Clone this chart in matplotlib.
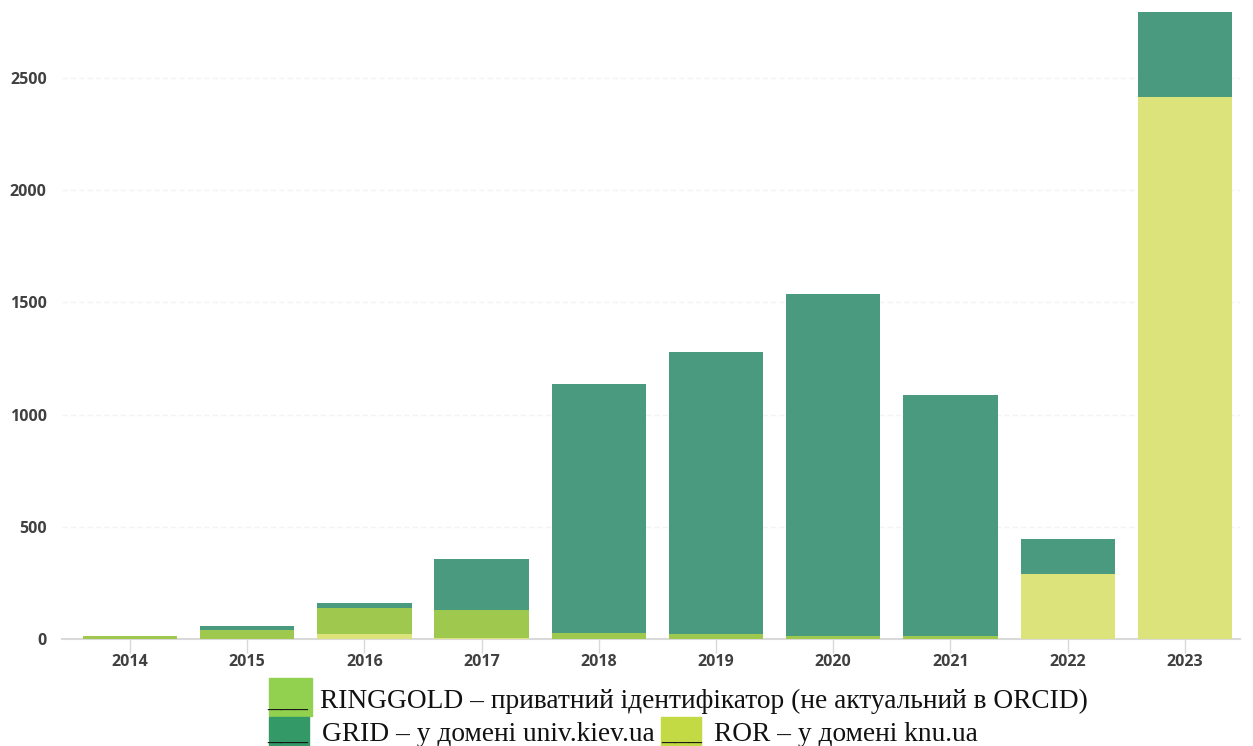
import matplotlib.pyplot as plt
from matplotlib.patches import Rectangle
import numpy as np

years = ['2014', '2015', '2016', '2017', '2018', '2019', '2020', '2021', '2022', '2023']
ror = [0, 0, 21, 5, 2, 2, 2, 2, 290, 2415]
ringgold = [13, 42, 116, 125, 23, 21, 10, 10, 0, 0]
grid = [0, 16, 25, 227, 1113, 1254, 1524, 1073, 156, 380]
yticks = [0, 500, 1000, 1500, 2000, 2500]

c_grid = '#4a9a80'
c_ring = '#9ec94e'
c_ror = '#dce37a'

W, H = 1253, 746
fig = plt.figure(figsize=(12.53, 7.46), dpi=100)
ax = fig.add_axes([62 / W, 1 - 639 / H, (1240 - 62) / W, 639 / H])

x = np.arange(len(years))
ror_a = np.array(ror)
ring_a = np.array(ringgold)
ax.bar(x, ror, width=0.805, color=c_ror, zorder=3)
ax.bar(x, ringgold, width=0.805, bottom=ror_a, color=c_ring, zorder=3)
ax.bar(x, grid, width=0.805, bottom=ror_a + ring_a, color=c_grid, zorder=3)

ax.set_xlim(-0.58, 9.47)
ax.set_ylim(0, 2847)
ax.set_xticks(x)
ax.set_xticklabels(years)
ax.set_yticks(yticks)
ax.set_yticklabels([str(v) for v in yticks])

for s in ['top', 'right', 'left']:
    ax.spines[s].set_visible(False)
ax.spines['bottom'].set_color('#d9d9d9')
ax.spines['bottom'].set_linewidth(1.5)
ax.tick_params(axis='x', length=10, width=1, color='#d9d9d9', pad=1, labelsize=11.5, labelcolor='#404040')
ax.tick_params(axis='y', length=0, pad=11, labelsize=11.5, labelcolor='#404040')
for lab in ax.get_xticklabels() + ax.get_yticklabels():
    lab.set_fontweight('bold')
    lab.set_fontfamily('Open Sans')
ax.yaxis.grid(True, color='#f3f3f3', linestyle=(0, (4, 2)), linewidth=1, zorder=0)

# legend block drawn under the chart (pasted-in style legend)
def px_rect(x0, y0, x1, y1, color):
    fig.patches.append(Rectangle((x0 / W, 1 - y1 / H), (x1 - x0) / W, (y1 - y0) / H,
                                 transform=fig.transFigure, color=color, zorder=1))

lfont = dict(family='Liberation Serif', fontsize=19.7, color='#111111', va='baseline')
px_rect(269, 678, 312, 716, '#92d050')
px_rect(269, 717, 309, 746, '#339966')
px_rect(661, 717, 701, 746, '#c3da44')
fig.text(267 / W, 1 - 707.5 / H, '___', **lfont)
fig.text(267 / W, 1 - 741 / H, '___', **lfont)
fig.text(661 / W, 1 - 741 / H, '___', **lfont)
fig.text(320 / W, 1 - 707.5 / H, 'RINGGOLD – приватний ідентифікатор (не актуальний в ORCID)', **lfont)
fig.text(322 / W, 1 - 741 / H, 'GRID – у домені univ.kiev.ua', **lfont)
fig.text(714 / W, 1 - 741 / H, 'ROR – у домені knu.ua', **lfont)

fig.savefig('out.png', dpi=100)
